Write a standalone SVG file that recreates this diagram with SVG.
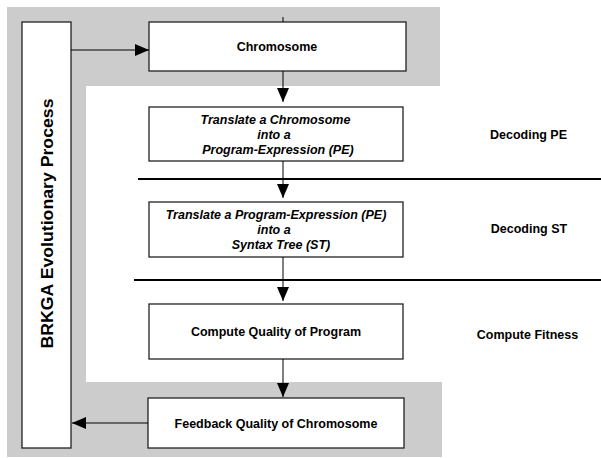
<svg xmlns="http://www.w3.org/2000/svg" width="601" height="458" viewBox="0 0 601 458">
<defs>
<style>
.box{fill:#fff;stroke:#222;stroke-width:1.3}
.t{font-family:"Liberation Sans",Arial,sans-serif;font-weight:bold;font-size:12.5px;fill:#000;text-anchor:middle}
.i{font-style:italic}
.c{stroke:#000;stroke-width:1;fill:none}
.sep{stroke:#000;stroke-width:2}
</style>
<marker id="ah" viewBox="0 0 14 12" refX="14" refY="6" markerWidth="14" markerHeight="12" markerUnits="userSpaceOnUse" orient="auto">
<path d="M0,0 L14,6 L0,12 Z" fill="#000"/>
</marker>
</defs>
<rect width="601" height="458" fill="#fff"/>
<path id="background" d="M7,7 H440 V86 H86 V382 H442 V457 H7 Z" fill="#cccccc"/>
<g id="separators">
<line class="sep" x1="138" y1="179" x2="601" y2="179"/>
<line class="sep" x1="134" y1="280" x2="601" y2="280"/>
</g>
<g id="bar">
<rect class="box" x="22" y="22" width="49" height="426"/>
<text class="t" style="font-size:17px" transform="translate(53,223.5) rotate(-90)" x="0" y="0" textLength="250" lengthAdjust="spacingAndGlyphs">BRKGA Evolutionary Process</text>
</g>
<g id="chromosome">
<rect class="box" x="149" y="22" width="257" height="49"/>
<text class="t" x="277" y="51">Chromosome</text>
</g>
<g id="decode-pe">
<rect class="box" x="149" y="107" width="254" height="54"/>
<text class="t i" x="275.5" y="124">Translate a Chromosome</text>
<text class="t i" x="274" y="139">into a</text>
<text class="t i" x="278" y="154">Program-Expression (PE)</text>
</g>
<g id="decode-st">
<rect class="box" x="149" y="202" width="254" height="55"/>
<text class="t i" x="276" y="219">Translate a Program-Expression (PE)</text>
<text class="t i" x="274" y="234">into a</text>
<text class="t i" x="281" y="249">Syntax Tree (ST)</text>
</g>
<g id="compute">
<rect class="box" x="149" y="304" width="254" height="55"/>
<text class="t" x="276" y="335.5">Compute Quality of Program</text>
</g>
<g id="feedback">
<rect class="box" x="148" y="398" width="256" height="50"/>
<text class="t" x="276" y="427.5">Feedback Quality of Chromosome</text>
</g>
<g id="labels">
<text class="t" x="528.5" y="139">Decoding PE</text>
<text class="t" x="529" y="233">Decoding ST</text>
<text class="t" x="527.5" y="339">Compute Fitness</text>
</g>
<g id="connectors">
<line class="c" x1="283" y1="17" x2="283" y2="22"/>
<line class="c" x1="71" y1="50" x2="149" y2="50" marker-end="url(#ah)"/>
<line class="c" x1="283" y1="71" x2="283" y2="102" marker-end="url(#ah)"/>
<line class="c" x1="283" y1="161" x2="283" y2="198" marker-end="url(#ah)"/>
<line class="c" x1="283" y1="257" x2="283" y2="301" marker-end="url(#ah)"/>
<line class="c" x1="283" y1="359" x2="283" y2="397" marker-end="url(#ah)"/>
<line class="c" x1="148" y1="423" x2="72" y2="423" marker-end="url(#ah)"/>
</g>
</svg>
